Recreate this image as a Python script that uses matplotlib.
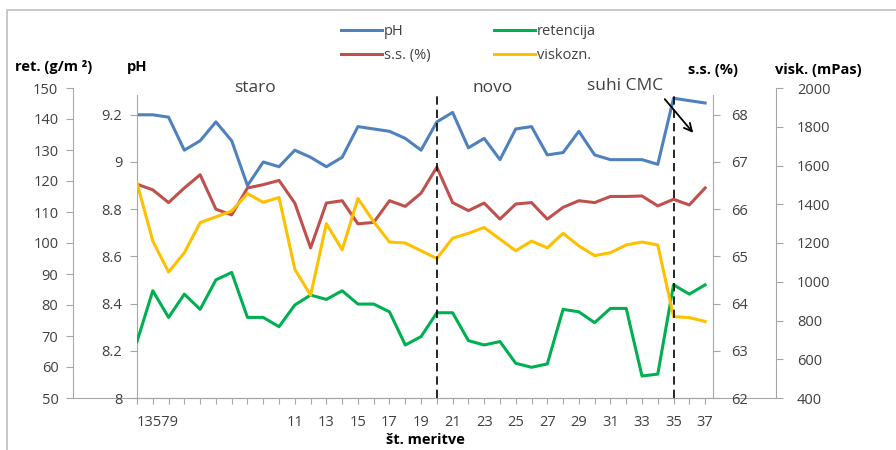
import matplotlib.pyplot as plt
from matplotlib.lines import Line2D

W, H = 896, 450

# podatki (odčitani s slike)
meritev = list(range(1, 38))
ph = [9.20, 9.20, 9.19, 9.05, 9.09, 9.17, 9.09, 8.90, 9.00, 8.98,
      9.05, 9.02, 8.98, 9.02, 9.15, 9.14, 9.13, 9.10, 9.05, 9.17,
      9.21, 9.06, 9.10, 9.01, 9.14, 9.15, 9.03, 9.04, 9.13, 9.03,
      9.01, 9.01, 9.01, 8.99, 9.27, 9.26, 9.25]
ss = [66.53, 66.41, 66.14, 66.45, 66.73, 66.00, 65.88, 66.45, 66.52, 66.61,
      66.13, 65.18, 66.13, 66.18, 65.69, 65.72, 66.18, 66.06, 66.34, 66.89,
      66.14, 65.97, 66.13, 65.79, 66.11, 66.14, 65.79, 66.04, 66.18, 66.14,
      66.27, 66.27, 66.28, 66.07, 66.21, 66.09, 66.45]
retencija = [68.2, 84.6, 76.0, 83.5, 78.6, 88.1, 90.5, 76.0, 76.0, 73.0,
             80.0, 83.2, 81.8, 84.6, 80.3, 80.3, 77.8, 67.1, 69.8, 77.5,
             77.5, 68.5, 67.1, 68.2, 61.2, 59.9, 61.0, 78.6, 77.8, 74.3,
             78.9, 78.9, 57.1, 57.7, 86.5, 83.5, 86.5]
viskoznost = [1510, 1210, 1050, 1150, 1305, 1335, 1365, 1455, 1410, 1435,
              1065, 930, 1300, 1165, 1430, 1310, 1205, 1200, 1160, 1120,
              1225, 1250, 1280, 1220, 1160, 1210, 1175, 1250, 1185, 1135,
              1150, 1190, 1205, 1190, 820, 815, 795]

ph_ticks = [8, 8.2, 8.4, 8.6, 8.8, 9, 9.2]
ss_ticks = [62, 63, 64, 65, 66, 67, 68]
ret_ticks = list(range(50, 151, 10))
visk_ticks = list(range(400, 2001, 200))
x_labels = ['13579' if i == 1 else (str(i) if i >= 11 and i % 2 == 1 else '') for i in meritev]
meje = [20, 35]

C_PH = '#4F81BD'
C_SS = '#C0504D'
C_RET = '#00B050'
C_VIS = '#FFC000'
GREY = '#A6A6A6'
TXT = '#404040'

plt.rcParams['font.family'] = ['Open Sans', 'DejaVu Sans']
plt.rcParams['font.size'] = 10.5


def box(x0, y0, x1, y1):
    # pikselni okvir (y od zgoraj) -> koordinate slike
    return [x0 / W, 1 - y1 / H, (x1 - x0) / W, (y1 - y0) / H]


def style_axis(a, side, pad):
    for s in a.spines.values():
        s.set_visible(False)
    a.spines[side].set_visible(True)
    a.spines[side].set_color(GREY)
    a.tick_params(axis='y', which='both', direction='out', length=5, width=0.8,
                  color=GREY, labelcolor=TXT, pad=pad)
    a.patch.set_visible(False)


fig = plt.figure(figsize=(W / 100, H / 100), dpi=100)

# zunanji osi (retencija levo, viskoznost desno) - samo skale
ax_out = fig.add_axes(box(73, 88, 776, 398))
style_axis(ax_out, 'left', 5.5)
ax_out.spines['bottom'].set_visible(True)
ax_out.spines['bottom'].set_color(GREY)
ax_out.set_xticks([])
ax_out.set_ylim(50, 150)
ax_out.set_yticks(ret_ticks)

ax_out2 = ax_out.twinx()
style_axis(ax_out2, 'right', 10)
ax_out2.set_ylim(400, 2000)
ax_out2.set_yticks(visk_ticks)

# notranja os (pH levo, s.s. desno)
ax = fig.add_axes(box(137, 95, 713, 398))
style_axis(ax, 'left', 5.5)
ax.spines['bottom'].set_visible(True)
ax.spines['bottom'].set_color(GREY)
ax.set_xlim(1, 37.5)
top_frac = 303 / 310.0
ax.set_ylim(8, 8 + 303 / 236.0)
ax.set_yticks(ph_ticks)
ax.set_yticklabels(['8', '8.2', '8.4', '8.6', '8.8', '9', '9.2'])
ax.set_xticks(meritev)
ax.set_xticklabels(x_labels)
ax.tick_params(axis='x', direction='out', length=4, width=0.8, color=GREY,
               labelcolor=TXT, pad=8)
ax.get_xticklabels()[0].set_ha('left')

ax_ss = ax.twinx()
style_axis(ax_ss, 'right', 8)
ax_ss.set_ylim(62, 62 + 303 / 47.2)
ax_ss.set_yticks(ss_ticks)

ax_ret = ax.twinx()
ax_ret.axis('off')
ax_ret.set_ylim(50, 50 + 100 * top_frac)

ax_vis = ax.twinx()
ax_vis.axis('off')
ax_vis.set_ylim(400, 400 + 1600 * top_frac)

lw = 2.2
l1, = ax.plot(meritev, ph, color=C_PH, lw=lw, label='pH', solid_joinstyle='round')
l2, = ax_ss.plot(meritev, ss, color=C_SS, lw=lw, label='s.s. (%)', solid_joinstyle='round')
l3, = ax_ret.plot(meritev, retencija, color=C_RET, lw=lw, label='retencija', solid_joinstyle='round')
l4, = ax_vis.plot(meritev, viskoznost, color=C_VIS, lw=lw, label='viskozn.', solid_joinstyle='round')

for m in meje:
    ax_vis.axvline(m, ymin=0, ymax=1.01, color='black', lw=1.2, ls=(0, (5, 3)), clip_on=False)

fig.legend(handles=[l1, l2, l3, l4], ncol=2, loc='upper left',
           bbox_to_anchor=(334 / W, 1 - 17 / H), frameon=False,
           handlelength=2.8, handletextpad=0.1, columnspacing=4.4,
           labelspacing=0.6, borderpad=0, fontsize=10.5, labelcolor=TXT)

# naslovi osi
fig.text(15 / W, 1 - 67 / H, 'ret. (g/m ²)', fontweight='bold', va='center', fontsize=10.5)
fig.text(127 / W, 1 - 67 / H, 'pH', fontweight='bold', va='center', fontsize=10.5)
fig.text(688 / W, 1 - 70 / H, 's.s. (%)', fontweight='bold', va='center', fontsize=10.5)
fig.text(775 / W, 1 - 70 / H, 'visk. (mPas)', fontweight='bold', va='center', fontsize=10.5)
fig.text(425 / W, 1 - 440 / H, 'št. meritve', fontweight='bold', ha='center', va='center', fontsize=10.5)

# oznake obdobij
fig.text(255 / W, 1 - 88 / H, 'staro', ha='center', va='center', fontsize=12.5, color=TXT)
fig.text(493 / W, 1 - 88 / H, 'novo', ha='center', va='center', fontsize=12.5, color=TXT)
fig.text(625 / W, 1 - 86 / H, 'suhi CMC', ha='center', va='center', fontsize=12.5, color=TXT)
fig.add_artist(plt.Annotation('', xy=(695, H - 135), xytext=(663, H - 97),
                              xycoords='figure pixels', textcoords='figure pixels',
                              arrowprops=dict(arrowstyle='->', color='black', lw=1.3,
                                              mutation_scale=14)))

# okvir slike
fig.add_artist(Line2D([7 / W, 7 / W, 1], [0, 1 - 10 / H, 1 - 10 / H],
                      transform=fig.transFigure, color='#BFBFBF', lw=1.2))

fig.savefig('out.png', dpi=100)
